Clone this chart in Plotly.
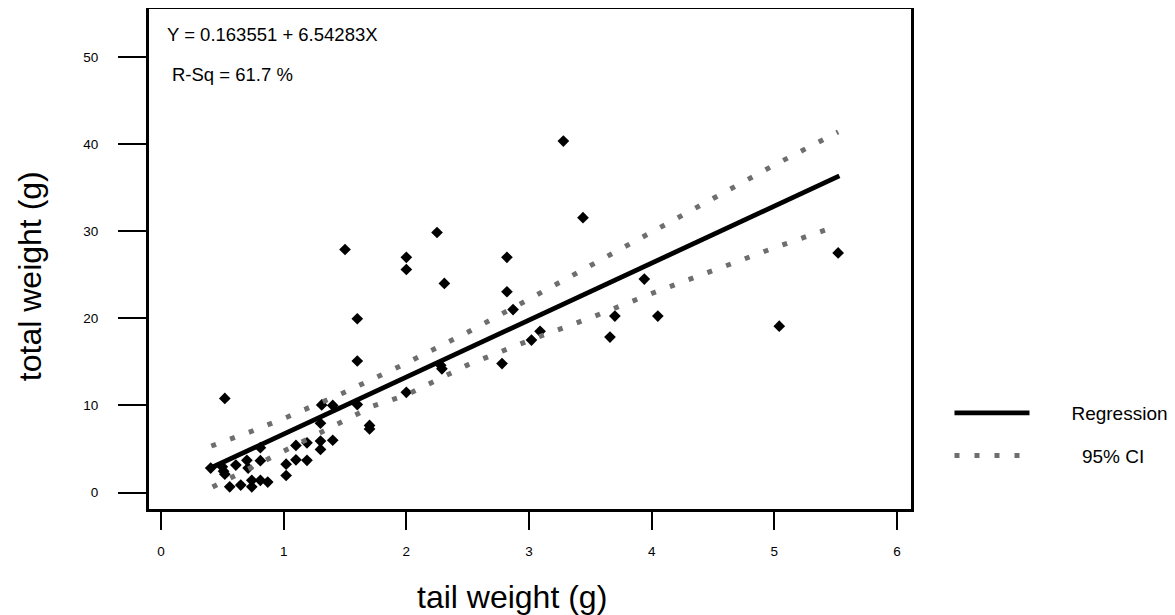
import plotly.graph_objects as go

# ---- data ----
tail_weight = [0.405, 0.50, 0.51, 0.52, 0.52, 0.56, 0.61, 0.65, 0.70, 0.71,
               0.74, 0.74, 0.81, 0.81, 0.81, 0.87, 1.02, 1.02, 1.10, 1.10,
               1.19, 1.19, 1.30, 1.30, 1.30, 1.31, 1.40, 1.40, 1.60, 1.70,
               1.70, 2.00, 1.50, 2.25, 2.00, 2.00, 2.31, 1.60, 1.60, 2.28,
               2.29, 2.82, 2.82, 2.87, 3.09, 3.02, 2.78, 3.28, 3.44, 3.94,
               3.70, 4.05, 3.66, 5.04, 5.52]
total_weight = [2.8, 2.95, 2.45, 10.8, 2.1, 0.65, 3.15, 0.85, 3.7, 2.8,
                1.4, 0.65, 3.65, 5.15, 1.4, 1.2, 3.25, 1.95, 3.75, 5.4,
                3.7, 5.7, 5.9, 4.95, 7.95, 10.05, 6.0, 10.0, 10.1, 7.7,
                7.3, 11.5, 27.9, 29.85, 27.0, 25.6, 24.0, 19.95, 15.1, 14.6,
                14.2, 27.0, 23.05, 21.0, 18.5, 17.5, 14.8, 40.35, 31.55, 24.5,
                20.25, 20.25, 17.85, 19.1, 27.5]

reg_x = [0.40, 5.53]
reg_y = [2.78, 36.35]

ci_upper_x = [0.41, 0.73, 1.03, 1.48, 2.0, 2.5, 3.0, 3.5, 4.0, 4.5, 5.0, 5.52]
ci_upper_y = [5.34, 6.98, 8.67, 11.4, 14.85, 18.4, 22.2, 26.1, 29.9, 33.75, 37.6, 41.4]
ci_lower_x = [0.42, 0.72, 1.00, 1.44, 1.73, 2.0, 2.5, 3.0, 3.5, 4.0, 4.5, 5.0, 5.52]
ci_lower_y = [0.63, 2.78, 4.76, 7.83, 9.93, 11.2, 14.65, 17.45, 20.05, 22.85, 25.5, 28.1, 30.65]

x_ticks = [0, 1, 2, 3, 4, 5, 6]
y_ticks = [0, 10, 20, 30, 40, 50]

equation_text = "Y = 0.163551 + 6.54283X"
rsq_text = "R-Sq = 61.7 %"
x_title = "tail weight (g)"
y_title = "total weight (g)"
reg_name = "Regression"
ci_name = "95% CI"

FONT = "Liberation Sans, Arial, Helvetica, sans-serif"
CI_COLOR = "#6e6e6e"
NB = "\u00a0"

fig = go.Figure()
fig.add_trace(go.Scatter(
    x=tail_weight, y=total_weight, mode="markers",
    marker=dict(symbol="diamond", size=9, color="black", line=dict(width=0)),
    showlegend=False, cliponaxis=False))
fig.add_trace(go.Scatter(
    x=reg_x, y=reg_y, mode="lines", name=NB * 7 + reg_name,
    line=dict(color="black", width=4.8), legendgroup="reg"))
fig.add_trace(go.Scatter(
    x=ci_upper_x, y=ci_upper_y, mode="lines", name=NB * 9 + ci_name,
    line=dict(color=CI_COLOR, width=5, dash="5px,15px"), legendgroup="ci"))
fig.add_trace(go.Scatter(
    x=ci_lower_x, y=ci_lower_y, mode="lines", showlegend=False,
    line=dict(color=CI_COLOR, width=5, dash="5px,15px"), legendgroup="ci"))

fig.add_annotation(text=equation_text, xref="x domain", yref="y domain",
                   x=0.021, y=0.95, xanchor="left", yanchor="middle",
                   showarrow=False, font=dict(size=18.5, color="black", family=FONT))
fig.add_annotation(text=rsq_text, xref="x domain", yref="y domain",
                   x=0.027, y=0.87, xanchor="left", yanchor="middle",
                   showarrow=False, font=dict(size=18.5, color="black", family=FONT))
# axis titles (placed as in the reference, slightly off-centre)
fig.add_annotation(text=x_title, xref="x domain", yref="y domain",
                   x=0.476, y=-0.176, xanchor="center", yanchor="middle",
                   showarrow=False, font=dict(size=32, color="black", family=FONT))
fig.add_annotation(text=y_title, xref="x domain", yref="y domain",
                   x=-0.156, y=0.466, xanchor="center", yanchor="middle",
                   textangle=-90, showarrow=False,
                   font=dict(size=32, color="black", family=FONT))

axis_common = dict(showgrid=False, zeroline=False, showline=True, linecolor="black",
                   linewidth=3, mirror=True, ticks="outside", tickcolor="black",
                   tickwidth=2, tickfont=dict(size=13.5, color="black", family=FONT))

fig.update_xaxes(range=[-0.098, 6.114], tickvals=x_ticks, ticklen=18,
                 ticklabelstandoff=10, **axis_common)
fig.update_yaxes(range=[-1.894, 55.51], tickvals=y_ticks, ticklen=28,
                 ticklabelstandoff=17, **axis_common)

fig.update_layout(
    width=1167, height=607,
    margin=dict(l=141, r=264, t=1, b=106, autoexpand=False),
    plot_bgcolor="white", paper_bgcolor="white",
    font=dict(family=FONT, color="black"),
    legend=dict(x=1.0505, y=0.23, xanchor="left", yanchor="top",
                itemwidth=75, tracegroupgap=15, bgcolor="rgba(0,0,0,0)",
                font=dict(size=19, color="black", family=FONT)),
)

fig.write_html("out.html")
